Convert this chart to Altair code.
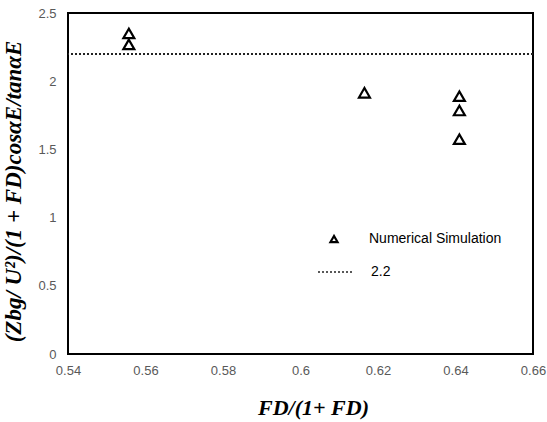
import altair as alt
import pandas as pd

# Data
x_vals = [0.5557, 0.5557, 0.6165, 0.641, 0.641, 0.641]
y_vals = [2.35, 2.27, 1.915, 1.89, 1.785, 1.575]
series_name = "Numerical Simulation"
ref_value = [2.2]
ref_label = ["2.2"]
x_ticks = [0.54, 0.56, 0.58, 0.60, 0.62, 0.64, 0.66]
y_ticks = [0, 0.5, 1, 1.5, 2, 2.5]

pts = pd.DataFrame({"x": x_vals, "y": y_vals, "series": [series_name] * len(x_vals)})
ref = pd.DataFrame({"y": ref_value, "label": ref_label})

x_scale = alt.Scale(domain=[0.54, 0.66], nice=False, zero=False)
y_scale = alt.Scale(domain=[0, 2.5], nice=False)

x_axis = alt.Axis(
    values=x_ticks, format="~g", title="FD/(1+ FD)",
    titleFont="Liberation Serif", titleFontStyle="italic", titleFontWeight="bold",
    titleFontSize=22, titleColor="black", titleX=245, titleY=53,
    titleBaseline="middle", titleAlign="center",
    labelFlush=False, labelPadding=10,
)
y_axis = alt.Axis(
    values=y_ticks, format="~g", title="(Zbg/ U²)/(1 + FD)cosαE/tanαE",
    titleFont="Liberation Serif", titleFontStyle="italic", titleFontWeight="bold",
    titleFontSize=23, titleColor="black", titleX=-55, titleY=178,
    titleBaseline="middle", titleAlign="center", titleAngle=270,
    labelFlush=False, labelPadding=12,
)

points = alt.Chart(pts).mark_point(
    filled=False, stroke="black", strokeWidth=2.2, size=120, opacity=1
).encode(
    x=alt.X("x:Q", scale=x_scale, axis=x_axis),
    y=alt.Y("y:Q", scale=y_scale, axis=y_axis),
    shape=alt.Shape(
        "series:N",
        scale=alt.Scale(domain=[series_name], range=["triangle-up"]),
        legend=alt.Legend(
            title=None, orient="none", legendX=259, legendY=219, padding=0,
            symbolSize=50, symbolStrokeWidth=2.2, symbolStrokeColor="black",
            symbolFillColor="white", labelOffset=28,
            labelFont="Liberation Sans", labelFontSize=14, labelColor="black",
        ),
    ),
)

rule = alt.Chart(ref).mark_rule(color="#222222", strokeWidth=2).encode(
    y=alt.Y("y:Q", scale=y_scale),
    strokeDash=alt.StrokeDash(
        "label:N",
        scale=alt.Scale(domain=ref_label, range=[[2, 2]]),
        legend=alt.Legend(
            title=None, orient="none", legendX=249, legendY=240, padding=0,
            symbolType="stroke", symbolSize=1296, symbolStrokeWidth=1.5,
            symbolStrokeColor="#222222", labelOffset=16,
            labelFont="Liberation Sans", labelFontSize=14, labelColor="black",
        ),
    ),
)

chart = alt.layer(rule, points).properties(
    width=465, height=341,
    padding={"left": 68, "top": 13, "right": 14, "bottom": 68},
    autosize=alt.AutoSizeParams(type="none"),
    background="white",
).configure_view(
    stroke="black", strokeWidth=2
).configure_axis(
    domain=False, ticks=False, grid=False,
    labelColor="#595959", labelFont="Liberation Sans", labelFontSize=13,
)

chart.save("out.html", embed_options={"renderer": "svg", "actions": False})
